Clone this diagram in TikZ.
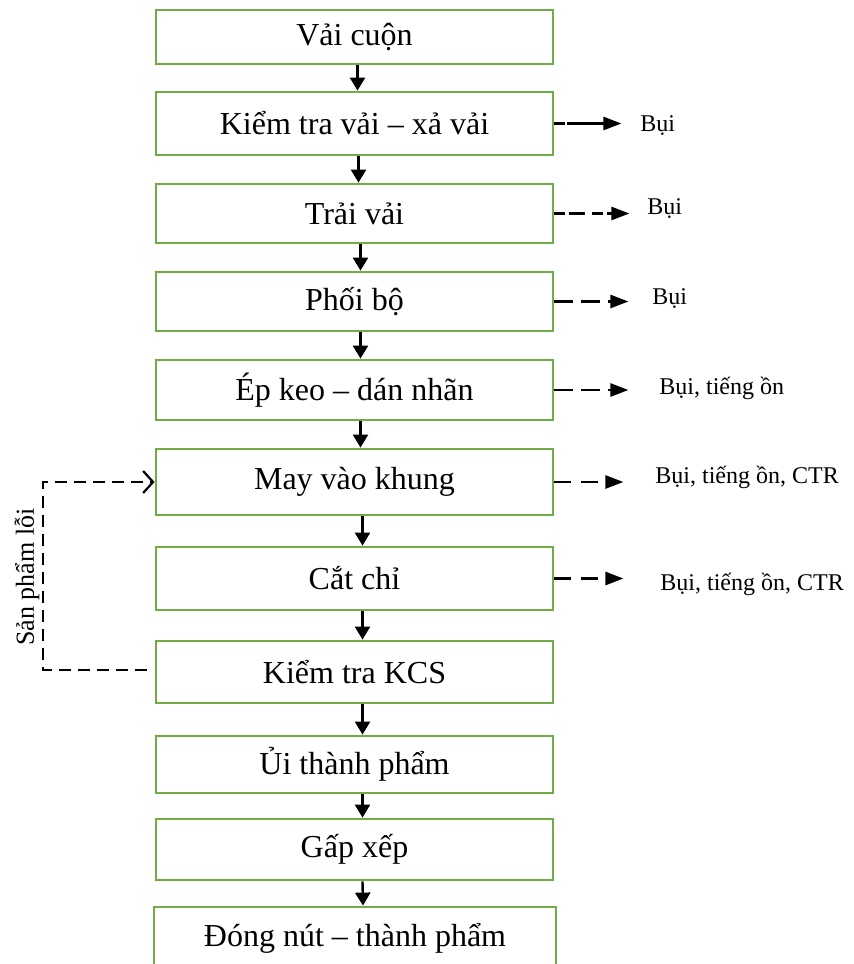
\documentclass[tikz,border=0pt]{standalone}
\usepackage{fontspec}
\setmainfont{Liberation Serif}
\usetikzlibrary{arrows.meta}
\definecolor{boxgreen}{RGB}{112,173,71}
\tikzset{
  stepbox/.style={draw=boxgreen, line width=1.4pt, rectangle, minimum width=198.5pt, minimum height=#1*0.5pt,
                  inner sep=0pt, font=\fontsize{16}{19}\selectfont},
  flow/.style={line width=1.2pt, -{Triangle[length=6.5pt,width=7.5pt]}},
  emit/.style={line width=1.3pt, dash pattern=on 9.5pt off 4pt, -{Triangle[length=9pt,width=6.5pt]}},
  emitlabel/.style={anchor=west, inner sep=0pt, font=\fontsize{12}{14}\selectfont},
  loopback/.style={line width=1.1pt, dash pattern=on 6pt off 3.5pt, -{Straight Barb[length=5pt,width=11pt,line width=1.1pt]}}
}
\begin{document}
\begin{tikzpicture}[x=0.5pt,y=-0.5pt]
\useasboundingbox (0,0) rectangle (854,964);

% process steps
\node[stepbox=54] (b1)  at (354.5,37)    {\raisebox{-1.5pt}{Vải cuộn}};
\node[stepbox=63] (b2)  at (354.5,123.5) {Kiểm tra vải – xả vải};
\node[stepbox=59] (b3)  at (354.5,213.5) {Trải vải};
\node[stepbox=59] (b4)  at (354.5,301.5) {\raisebox{-1pt}{Phối bộ}};
\node[stepbox=60] (b5)  at (354.5,390)   {Ép keo – dán nhãn};
\node[stepbox=66] (b6)  at (354.5,482)   {May vào khung};
\node[stepbox=63] (b7)  at (354.5,578.5) {Cắt chỉ};
\node[stepbox=62] (b8)  at (354.5,672)   {Kiểm tra KCS};
\node[stepbox=57] (b9)  at (354.5,764.5) {Ủi thành phẩm};
\node[stepbox=61] (b10) at (354.5,849.5) {Gấp xếp};
\node[stepbox=63, minimum width=201pt] (b11) at (355,938.5) {Đóng nút – thành phẩm};

% main flow
\draw[flow] ([xshift=1.5pt]b1.south) -- ([xshift=1.5pt]b2.north);
\draw[flow] ([xshift=2pt]b2.south) -- ([xshift=2pt]b3.north);
\draw[flow] ([xshift=3pt]b3.south) -- ([xshift=3pt]b4.north);
\draw[flow] ([xshift=3pt]b4.south) -- ([xshift=3pt]b5.north);
\draw[flow] ([xshift=3pt]b5.south) -- ([xshift=3pt]b6.north);
\draw[flow] ([xshift=4pt]b6.south) -- ([xshift=4pt]b7.north);
\draw[flow] ([xshift=4pt]b7.south) -- ([xshift=4pt]b8.north);
\draw[flow] ([xshift=4pt]b8.south) -- ([xshift=4pt]b9.north);
\draw[flow] ([xshift=4pt]b9.south) -- ([xshift=4pt]b10.north);
\draw[flow] ([xshift=4pt]b10.south) -- ([xshift=4pt]b11.north);

% emissions
\node[emitlabel] (t2) at (640,126) {Bụi};
\node[emitlabel] (t3) at (647,209) {Bụi};
\node[emitlabel] (t4) at (652,299) {Bụi};
\node[emitlabel] (t5) at (659,388) {Bụi, tiếng ồn};
\node[emitlabel] (t6) at (655,477) {Bụi, tiếng ồn, CTR};
\node[emitlabel] (t7) at (660,584) {Bụi, tiếng ồn, CTR};

\coordinate (e2) at ([xshift=33.5pt]b2.east);
\coordinate (e3) at ([xshift=37.5pt]b3.east);
\coordinate (e4) at ([xshift=37pt]b4.east);
\coordinate (e5) at ([xshift=37pt]b5.east);
\coordinate (e6) at ([xshift=34.5pt]b6.east);
\coordinate (e7) at ([xshift=34.5pt]b7.east);

\draw[emit, dash pattern=on 5.5pt off 1pt on 100pt] (b2.east) -- (e2);
\draw[emit, dash pattern=on 5.5pt off 2pt on 8pt off 3.5pt] (b3.east) -- (e3);
\draw[emit] (b4.east) -- (e4);
\draw[emit] (b5.east) -- (e5);
\draw[emit, dash pattern=on 8.5pt off 5pt] (b6.east) -- (e6);
\draw[emit, dash pattern=on 8.5pt off 5pt] (b7.east) -- (e7);

% rework loop
\coordinate (lb) at (43,670);
\draw[loopback] ([xshift=-4pt]b8.west |- lb) -- (lb) |- (b6.west);
\node[rotate=90, inner sep=0pt, font=\fontsize{13}{15}\selectfont] (lbl) at (27,577) {Sản phẩm lỗi};
\end{tikzpicture}
\end{document}
